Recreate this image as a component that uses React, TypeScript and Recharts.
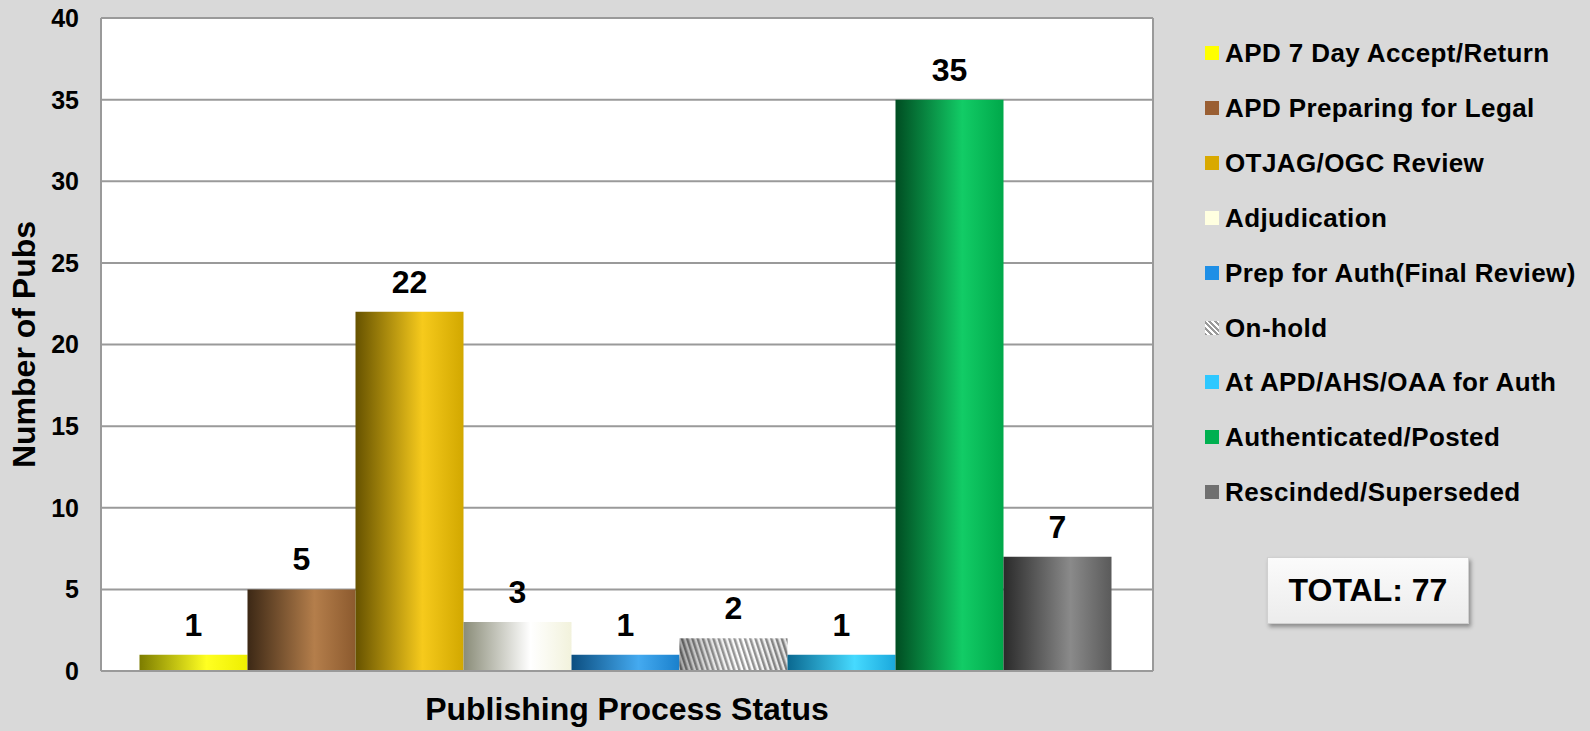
import React from 'react'
import { BarChart, Bar, XAxis, YAxis, CartesianGrid, LabelList } from 'recharts'

const categories = [
  'APD 7 Day Accept/Return',
  'APD Preparing for Legal',
  'OTJAG/OGC Review',
  'Adjudication',
  'Prep for Auth(Final Review)',
  'On-hold',
  'At APD/AHS/OAA for Auth',
  'Authenticated/Posted',
  'Rescinded/Superseded',
]
const values = [1, 5, 22, 3, 1, 2, 1, 35, 7]
const yTicks = [0, 5, 10, 15, 20, 25, 30, 35, 40]
const total = 77

// legend swatch colours
const COLORS = ['#ffff00', '#9a5f33', '#d9a900', '#ffffe0', '#1e8fe6', '#bdbdbd', '#2ec8ff', '#00b050', '#707070']
// cylinder shading: [dark edge, highlight, right edge]
const SHADES = [
  ['#7c7c00', '#ffff22', '#eeee00'],
  ['#3c2815', '#b47e4b', '#8c5a2e'],
  ['#665200', '#f6ca1c', '#d2a800'],
  ['#8a8c78', '#ffffff', '#f2f2dc'],
  ['#0c4e80', '#44aaf0', '#1a80cc'],
  ['#555555', '#ffffff', '#cfcfcf'],
  ['#0a6890', '#46daff', '#1aa8dc'],
  ['#004d22', '#12cc66', '#00a84a'],
  ['#2a2a2a', '#8a8a8a', '#5a5a5a'],
]

const font = '"Liberation Sans", Arial, sans-serif'

const row: Record<string, string | number> = { name: 'Publishing Process Status' }
categories.forEach((c, i) => {
  row['s' + i] = values[i]
})
const chartData = [row]

const HatchBar = (props: any) => {
  const { x, y, width, height } = props
  if (!height || height <= 0) return null
  return (
    <g>
      <rect x={x} y={y} width={width} height={height} fill="url(#hatch)" />
      <rect x={x} y={y} width={width} height={height} fill="url(#hatchShade)" />
    </g>
  )
}

export default function App() {
  return (
    <div
      style={{
        position: 'absolute',
        left: 0,
        top: 0,
        width: 1590,
        height: 731,
        background: '#d9d9d9',
        fontFamily: font,
        overflow: 'hidden',
      }}
    >
      <BarChart
        width={1590}
        height={731}
        data={chartData}
        margin={{ top: 18, right: 437, bottom: 0, left: 0 }}
        barCategoryGap={38.5}
        barGap={0}
      >
        <defs>
          {SHADES.map((s, i) => (
            <linearGradient key={i} id={'g' + i} x1="0" y1="0" x2="1" y2="0">
              <stop offset="0%" stopColor={s[0]} />
              <stop offset="62%" stopColor={s[1]} />
              <stop offset="100%" stopColor={s[2]} />
            </linearGradient>
          ))}
          <pattern id="hatch" patternUnits="userSpaceOnUse" width="5" height="5" patternTransform="rotate(-18)">
            <rect width="5" height="5" fill="#ffffff" />
            <rect width="2.5" height="5" fill="#8a8a8a" />
          </pattern>
          <linearGradient id="hatchShade" x1="0" y1="0" x2="1" y2="0">
            <stop offset="0%" stopColor="#000" stopOpacity={0.35} />
            <stop offset="60%" stopColor="#fff" stopOpacity={0.1} />
            <stop offset="100%" stopColor="#000" stopOpacity={0.12} />
          </linearGradient>
        </defs>
        <CartesianGrid
          fill="#ffffff"
          stroke="#9a9a9a"
          strokeWidth={2}
          verticalCoordinatesGenerator={({ offset }: any) => [offset.left, offset.left + offset.width]}
        />
        <XAxis
          dataKey="name"
          tick={false}
          tickLine={false}
          height={60}
          axisLine={{ stroke: '#9a9a9a', strokeWidth: 2 }}
          label={{
            value: 'Publishing Process Status',
            position: 'insideBottom',
            offset: 11,
            style: { fontSize: 32, fontWeight: 'bold', fill: '#000', fontFamily: font },
          }}
        />
        <YAxis
          domain={[0, 40]}
          ticks={yTicks}
          width={101}
          tickLine={false}
          tickSize={0}
          tickMargin={22}
          axisLine={{ stroke: '#9a9a9a', strokeWidth: 2 }}
          tick={{ fontSize: 25, fontWeight: 'bold', fill: '#000', fontFamily: font }}
          label={{
            value: 'Number of Pubs',
            angle: -90,
            position: 'insideLeft',
            offset: 24,
            style: { textAnchor: 'middle', fontSize: 32, fontWeight: 'bold', fill: '#000', fontFamily: font },
          }}
        />
        {categories.map((c, i) => (
          <Bar
            key={c}
            dataKey={'s' + i}
            name={c}
            fill={i === 5 ? 'url(#hatch)' : `url(#g${i})`}
            shape={i === 5 ? HatchBar : undefined}
            isAnimationActive={false}
          >
            <LabelList
              dataKey={'s' + i}
              position="top"
              offset={19}
              style={{ fontSize: 32, fontWeight: 'bold', fill: '#000', fontFamily: font }}
            />
          </Bar>
        ))}
      </BarChart>

      <div style={{ position: 'absolute', left: 1205, top: 53 }}>
        {categories.map((c, i) => (
          <div
            key={c}
            style={{
              position: 'absolute',
              left: 0,
              top: i * 54.9,
              transform: 'translateY(-50%)',
              display: 'flex',
              alignItems: 'center',
              whiteSpace: 'nowrap',
            }}
          >
            <span
              style={{
                width: 14,
                height: 14,
                marginRight: 6,
                background:
                  i === 5
                    ? 'repeating-linear-gradient(45deg, #9a9a9a 0 2px, #ffffff 2px 4px)'
                    : COLORS[i],
              }}
            />
            <span
              style={{ fontSize: 26, fontWeight: 'bold', color: '#000', lineHeight: '30px', letterSpacing: 0.4 }}
            >
              {c}
            </span>
          </div>
        ))}
      </div>

      <div
        style={{
          position: 'absolute',
          left: 1267,
          top: 557,
          width: 202,
          height: 67,
          boxSizing: 'border-box',
          border: '1px solid #d0d0d0',
          background: 'linear-gradient(#fbfbfb, #ececec)',
          boxShadow: '2px 3px 4px rgba(0,0,0,0.35)',
          display: 'flex',
          alignItems: 'center',
          justifyContent: 'center',
          fontSize: 32,
          fontWeight: 'bold',
          color: '#000',
        }}
      >
        TOTAL: {total}
      </div>
    </div>
  )
}
